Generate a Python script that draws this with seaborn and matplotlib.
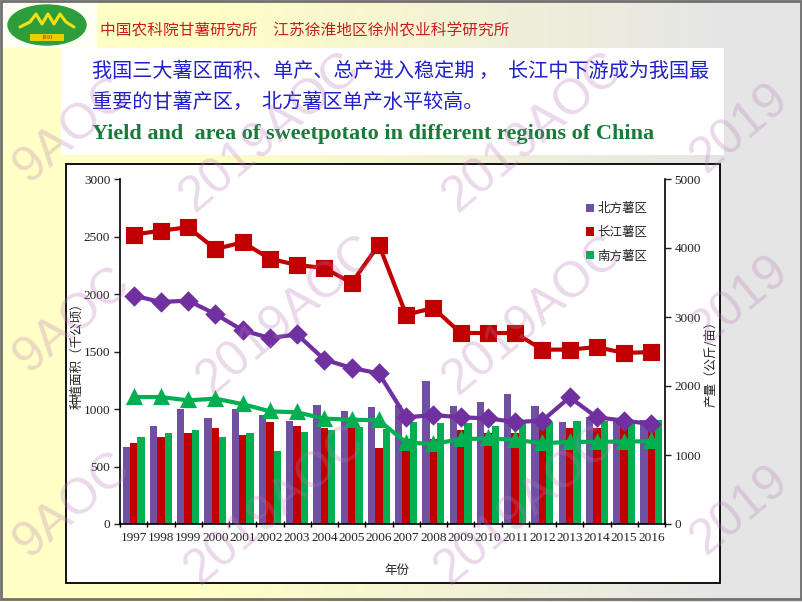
import numpy as np
import pandas as pd
import seaborn as sns
import matplotlib
matplotlib.use('Agg')
from matplotlib import pyplot as plt
from matplotlib.patches import Rectangle, Ellipse, Patch

# data
years = [str(y) for y in range(1997, 2017)]
regions = ['北方薯区', '长江薯区', '南方薯区']

# planting area, thousand ha (left axis, bars)
area_north = [673, 854, 997, 924, 1000, 950, 892, 1038, 980, 1017,
              1035, 1245, 1029, 1058, 1134, 1029, 886, 927, 898, 907]
area_yangtze = [703, 758, 787, 837, 778, 889, 854, 837, 860, 665,
                738, 738, 819, 787, 787, 840, 834, 831, 850, 850]
area_south = [758, 787, 819, 758, 787, 638, 799, 819, 845, 822,
              883, 875, 875, 854, 883, 883, 892, 892, 875, 904]

# yield, kg per mu (right axis, lines)
yield_north = [3310, 3217, 3237, 3043, 2807, 2695, 2748, 2382, 2262, 2183,
               1546, 1580, 1546, 1531, 1478, 1498, 1836, 1546, 1498, 1449]
yield_yangtze = [4193, 4252, 4300, 3985, 4082, 3845, 3753, 3710, 3493, 4048,
                 3034, 3130, 2768, 2768, 2768, 2527, 2527, 2565, 2478, 2493]
yield_south = [1840, 1840, 1792, 1817, 1738, 1633, 1618, 1527, 1512, 1502,
               1180, 1160, 1230, 1240, 1220, 1170, 1190, 1190, 1195, 1200]

left_ticks = [0, 500, 1000, 1500, 2000, 2500, 3000]
right_ticks = [0, 1000, 2000, 3000, 4000, 5000]

bar_colors = {'北方薯区': '#7050A0', '长江薯区': '#C00000', '南方薯区': '#00B050'}
line_colors = {'北方薯区': '#7030A0', '长江薯区': '#C00000', '南方薯区': '#00B050'}

area_df = pd.DataFrame({'year': years * 3,
                        'region': np.repeat(regions, len(years)),
                        'area': area_north + area_yangtze + area_south})
yield_df = pd.DataFrame({'year': years * 3,
                         'region': np.repeat(regions, len(years)),
                         'yield': yield_north + yield_yangtze + yield_south})

sns.set_theme(style='white')
cjk = ['Noto Sans CJK SC', 'DejaVu Sans']
serif = ['Liberation Serif', 'DejaVu Serif']
plt.rcParams['font.family'] = cjk

W, H = 802, 602
fig = plt.figure(figsize=(8.02, 6.02), dpi=100)


def fx(px):
    return px / W


def fy(py):
    return 1 - py / H


# slide background
bg = fig.add_axes([0, 0, 1, 1])
t = np.clip((np.linspace(0, 1, 400) - 0.25) / 0.65, 0, 1)
yellow = np.array([1.0, 1.0, 0.78])
gray = np.array([0.90, 0.90, 0.90])
row = (1 - t)[:, None] * yellow + t[:, None] * gray
grad = np.tile(row[None, :, :], (50, 1, 1))
bg.imshow(grad, extent=[0, W, H, 0], aspect='auto')
bg.set_xlim(0, W)
bg.set_ylim(H, 0)
bg.axis('off')

bg.add_patch(Rectangle((0, 0), 97, 48, color='white', alpha=0.8, lw=0))
bg.add_patch(Rectangle((61, 48), 663, 107, color='white', lw=0))
bg.add_patch(Rectangle((66, 164), 654, 419, facecolor='white',
                       edgecolor='black', lw=1.3))
bg.add_patch(Rectangle((1, 1), W - 2, H - 4, fill=False,
                       edgecolor='#707070', lw=2))

# logo
bg.add_patch(Ellipse((47, 25), 78, 40, color='#2E9E3A'))
bg.plot([20, 30, 36, 42, 48, 54, 60, 66, 74], [27, 22, 14, 24, 14, 24, 14, 22, 27],
        color='#F5E010', lw=2.2)
bg.add_patch(Rectangle((30, 34), 34, 7, color='#E8D000', lw=0))
bg.text(47, 37.5, '1910', fontsize=4, color='#8B2000', ha='center', va='center',
        family=serif)

# header texts
fig.text(fx(100), fy(31), '中国农科院甘薯研究所　江苏徐淮地区徐州农业科学研究所',
         fontsize=11.3, color='#C81E1E', va='center', family=cjk)
fig.text(fx(92), fy(71), '我国三大薯区面积、单产、总产进入稳定期 ，  长江中下游成为我国最',
         fontsize=14.5, color='#2020C8', va='center', family=cjk)
fig.text(fx(92), fy(102), '重要的甘薯产区，  北方薯区单产水平较高。',
         fontsize=14.5, color='#2020C8', va='center', family=cjk)
fig.text(fx(92), fy(134), 'Yield and  area of sweetpotato in different regions of China',
         fontsize=16, color='#1A7A3A', va='center', fontweight='bold', family=serif)

# chart
ax1 = fig.add_axes([fx(120), fy(524), fx(665) - fx(120), fy(179) - fy(524)])
sns.barplot(data=area_df, x='year', y='area', hue='region', hue_order=regions,
            palette=bar_colors, saturation=1, width=0.8, gap=0, linewidth=0,
            legend=False, ax=ax1)
ax1.set_ylim(0, 3000)
ax1.set_yticks(left_ticks)
ax1.set_facecolor('none')

ax2 = ax1.twinx()
sns.pointplot(data=yield_df, x='year', y='yield', hue='region', hue_order=regions,
              palette=line_colors, markers=['D', 's', '^'], linestyles='-',
              errorbar=None, legend=False, markersize=10, linewidth=3, ax=ax2)
msize = {'D': 8.5, 's': 10, '^': 9}
for ln in ax2.lines:
    mk = ln.get_marker()
    if mk in msize:
        ln.set_markersize(msize[mk])
ax2.set_ylim(0, 5000)
ax2.set_yticks(right_ticks)

for ax in (ax1, ax2):
    ax.set_xlim(-0.5, len(years) - 0.5)
    ax.set_xlabel('')
    ax.set_ylabel('')
    ax.grid(False)
    ax.spines['top'].set_visible(False)
    for s in ax.spines.values():
        s.set_color('black')
        s.set_linewidth(1.2)

ax1.spines['right'].set_visible(False)
ax2.spines['left'].set_visible(False)
ax2.spines['bottom'].set_visible(False)

ax1.set_xticks(range(len(years)))
ax1.set_xticklabels(years, family=serif, fontsize=9.5)
ax1.set_xticks(np.arange(-0.5, len(years), 1), minor=True)
ax1.tick_params(axis='x', which='major', length=0, pad=6, colors='#222222')
ax1.tick_params(axis='x', which='minor', length=5, width=1, direction='inout',
                color='black', bottom=True)
ax1.tick_params(axis='y', which='major', left=True, length=4, width=1,
                direction='out', pad=3, labelsize=9.5, colors='#222222')
ax2.tick_params(axis='y', which='major', right=True, length=4, width=1,
                direction='out', pad=3, labelsize=9.5, colors='#222222')
for lab in ax1.get_yticklabels() + ax2.get_yticklabels():
    lab.set_family(serif)

fig.text(fx(77), fy(353), '种植面积（千公顷）', rotation=90, fontsize=9,
         color='#222222', ha='center', va='center', family=cjk)
fig.text(fx(711), fy(361), '产量（公斤/亩）', rotation=90, fontsize=9,
         color='#222222', ha='center', va='center', family=cjk)
fig.text(fx(397), fy(570), '年份', fontsize=9, color='#222222',
         ha='center', va='center', family=cjk)

handles = [Patch(facecolor=bar_colors[r], edgecolor='none') for r in regions]
ax2.legend(handles, regions, loc='upper left',
           bbox_to_anchor=(fx(580), fy(196)), bbox_transform=fig.transFigure,
           frameon=False, handlelength=0.65, handleheight=0.65,
           handletextpad=0.25, labelspacing=0.85, borderpad=0,
           prop={'family': cjk, 'size': 9})

# watermark (only the parts visible inside the slide)
marks = [(72, 130, '9AOC'), (270, 132, '2019AOC'), (533, 132, '2019AOC'),
         (740, 128, '2019'),
         (72, 320, '9AOC'), (287, 315, '2019AOC'), (533, 315, '2019AOC'),
         (740, 300, '2019'),
         (72, 505, '9AOC'), (275, 505, '2019AOC'), (525, 505, '2019AOC'),
         (740, 510, '2019')]
for mx, my, txt in marks:
    fig.text(fx(mx), fy(my), txt, fontsize=36, rotation=40,
             color='#B878B8', alpha=0.28, ha='center', va='center',
             family=['Liberation Sans', 'DejaVu Sans'], zorder=20)

fig.savefig('out.png', dpi=100)
